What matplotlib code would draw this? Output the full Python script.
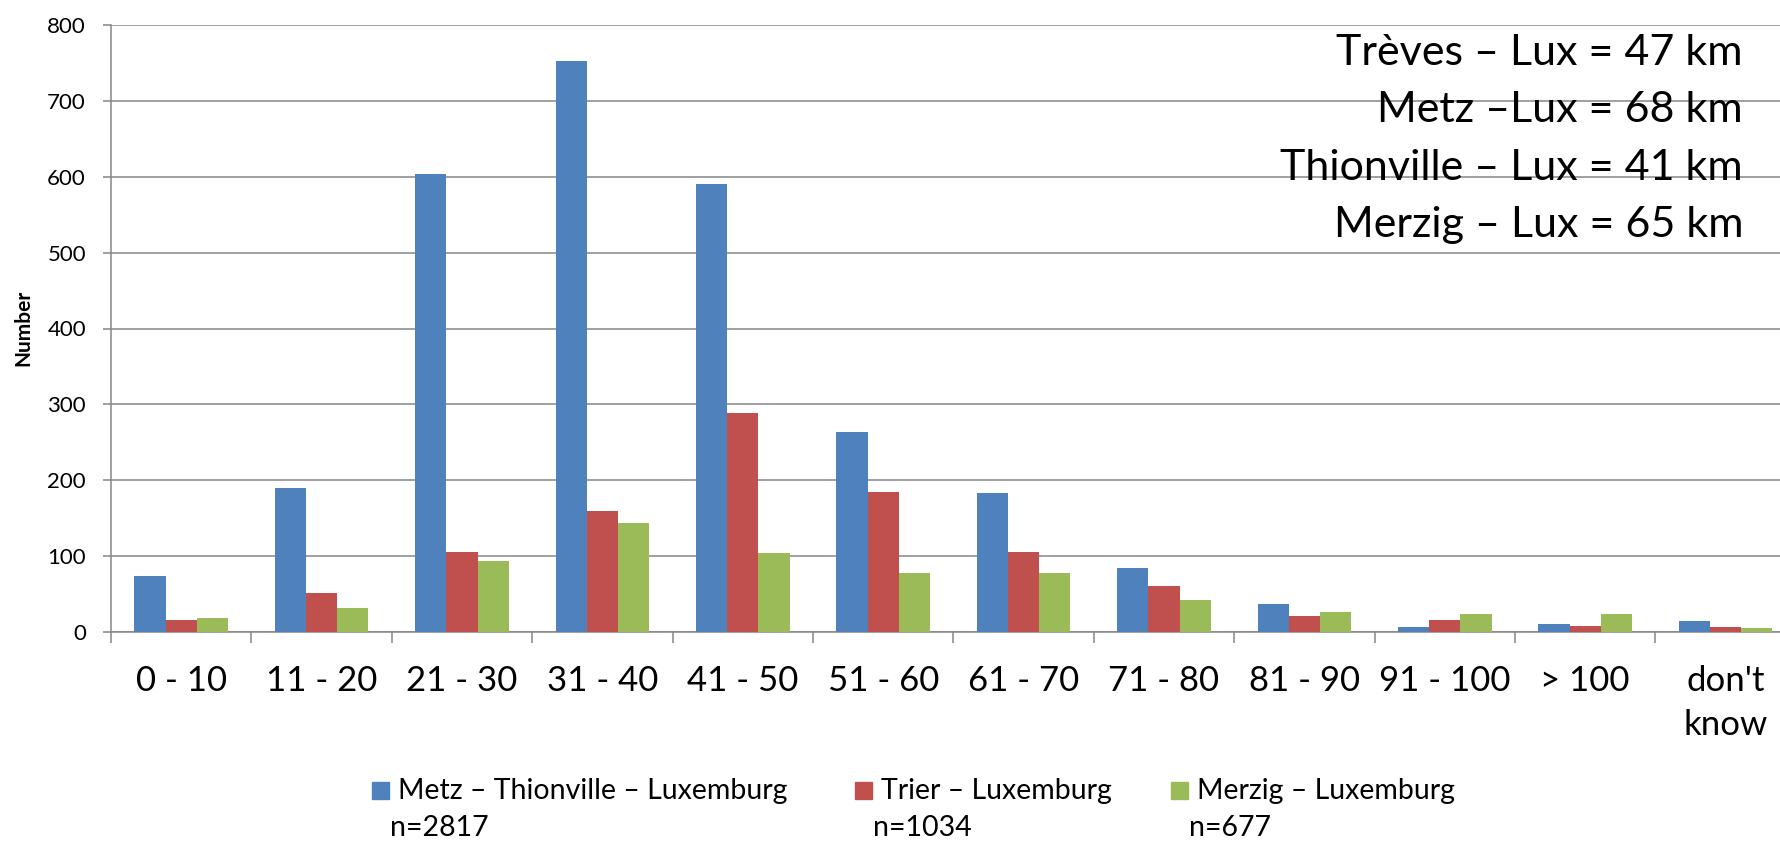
import matplotlib
matplotlib.use("Agg")
import matplotlib.pyplot as plt
import numpy as np
from matplotlib.patches import Rectangle

plt.rcParams['font.family'] = ['Lato', 'DejaVu Sans']

categories = ["0 - 10", "11 - 20", "21 - 30", "31 - 40", "41 - 50", "51 - 60",
              "61 - 70", "71 - 80", "81 - 90", "91 - 100", "> 100", "don't\nknow"]
metz_thionville = [74, 190, 604, 753, 590, 264, 183, 85, 37, 7, 10, 14]
trier = [16, 52, 106, 160, 288, 184, 106, 61, 21, 16, 8, 7]
merzig = [19, 31, 94, 143, 104, 78, 78, 42, 27, 24, 24, 5]

series_labels = ["Metz – Thionville – Luxemburg", "Trier – Luxemburg", "Merzig – Luxemburg"]
series_n = ["n=2817", "n=1034", "n=677"]
colors = ["#4F81BD", "#C0504D", "#9BBB59"]

distances = ["Trèves – Lux = 47 km", "Metz –Lux = 68 km",
             "Thionville – Lux = 41 km", "Merzig – Lux = 65 km"]

W, H = 1780, 841
fig = plt.figure(figsize=(W / 100, H / 100), dpi=100)

# plot area in pixels: left 111, top 25, bottom 632, category width ~140.4 px
left, top, bottom = 111, 25, 632
cat_w = 140.4
ax = fig.add_axes([left / W, 1 - bottom / H, 12 * cat_w / W, (bottom - top) / H])

grid_c = "#868686"
x = np.arange(len(categories)) + 0.5
bw = 1 / 4.5
for k, (vals, c) in enumerate(zip([metz_thionville, trier, merzig], colors)):
    ax.bar(x + (k - 1) * bw, vals, width=bw, color=c, zorder=3, linewidth=0)

ax.set_xlim(0, 12)
ax.set_ylim(0, 800)
ax.set_yticks(np.arange(0, 801, 100))
ax.yaxis.grid(True, color=grid_c, linewidth=1.1, zorder=0)
ax.set_axisbelow(True)

for s in ["top", "right"]:
    ax.spines[s].set_visible(False)
for s in ["left", "bottom"]:
    ax.spines[s].set_color(grid_c)
    ax.spines[s].set_linewidth(1.1)

ax.tick_params(axis="y", direction="out", length=6, width=1.1, color=grid_c,
               labelsize=16, pad=12, labelcolor="black")
ax.set_xticks(x)
ax.set_xticklabels(categories, fontsize=25, linespacing=1.45)
ax.tick_params(axis="x", which="major", length=0, pad=24)
ax.set_xticks(np.arange(0, 13), minor=True)
ax.tick_params(axis="x", which="minor", direction="out", length=8, width=1.1, color=grid_c)

fig.text(23 / W, 1 - 328 / H, "Number", rotation=90, fontsize=15, fontweight="bold",
         ha="center", va="center")

# distance notes, right aligned at the top right
baselines = [65, 122, 180, 237]
for txt, b in zip(distances, baselines):
    fig.text(1743 / W, 1 - b / H, txt, fontsize=31, ha="right", va="baseline")

# legend drawn as squares with two-line labels
sq_x = [372, 855, 1171]
for sx, c, lab, n in zip(sq_x, colors, series_labels, series_n):
    fig.patches.append(Rectangle((sx / W, 1 - 799 / H), 17 / W, 17 / H,
                                 transform=fig.transFigure, color=c))
    fig.text((sx + 26) / W, 1 - 799 / H, lab, fontsize=20.5, ha="left", va="baseline")
    fig.text((sx + 18) / W, 1 - 836 / H, n, fontsize=20.5, ha="left", va="baseline")

fig.savefig("out.png", dpi=100)
